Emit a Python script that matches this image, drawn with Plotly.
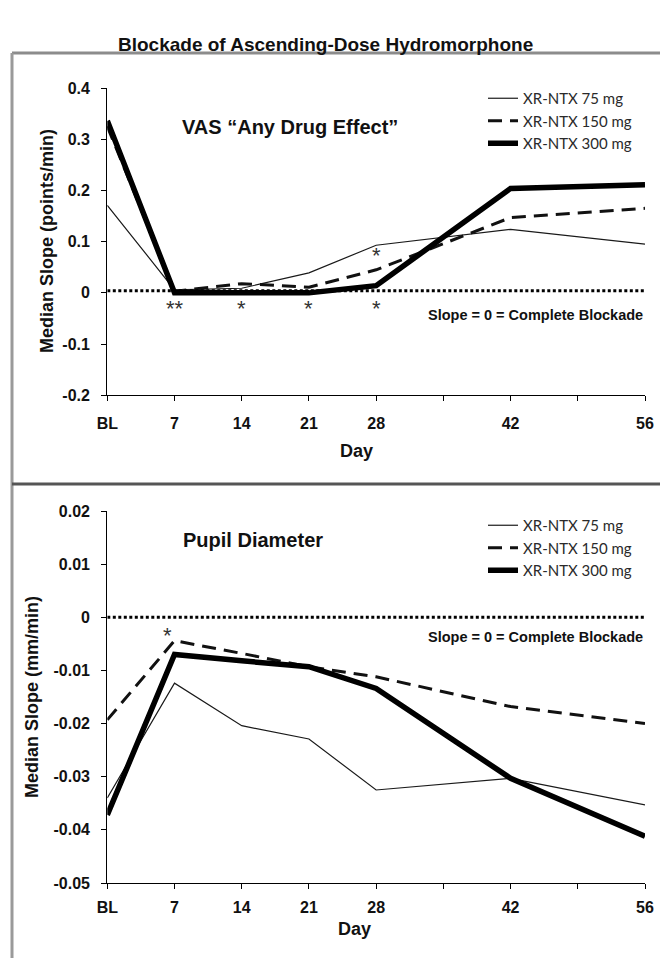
import plotly.graph_objects as go

# ---------------- data ----------------
days = [0, 7, 14, 21, 28, 42, 56]
tick_vals = [0, 7, 14, 21, 28, 35, 42, 49, 56]
tick_text = ["BL", "7", "14", "21", "28", "", "42", "", "56"]

series_names = ["XR-NTX 75 mg", "XR-NTX 150 mg", "XR-NTX 300 mg"]

vas_75 = [0.171, 0.006, 0.009, 0.039, 0.093, 0.124, 0.095]
vas_150 = [0.325, 0.003, 0.018, 0.011, 0.045, 0.147, 0.165]
vas_300 = [0.336, 0.0, 0.0, 0.0, 0.014, 0.204, 0.211]

pupil_75 = [-0.0340, -0.0124, -0.0204, -0.0229, -0.0325, -0.0303, -0.0353]
pupil_150 = [-0.0193, -0.0044, -0.0068, -0.0093, -0.0112, -0.0168, -0.0200]
pupil_300 = [-0.0372, -0.0070, -0.0082, -0.0093, -0.0134, -0.0303, -0.0412]

vas_ticks = [-0.2, -0.1, 0, 0.1, 0.2, 0.3, 0.4]
vas_ticktext = ["-0.2", "-0.1", "0", "0.1", "0.2", "0.3", "0.4"]
pupil_ticks = [-0.05, -0.04, -0.03, -0.02, -0.01, 0, 0.01, 0.02]
pupil_ticktext = ["-0.05", "-0.04", "-0.03", "-0.02", "-0.01", "0", "0.01", "0.02"]

# significance markers (day, value, text)
vas_sig = [(7, -0.031, "**"), (14, -0.031, "*"), (21, -0.031, "*"), (28, -0.031, "*"), (28, 0.072, "*")]
pupil_sig = [(6.3, -0.0035, "*")]

W, H = 660, 958


def px(x):
    return x / W


def py(y):
    return 1 - y / H


styles = [
    dict(color="#1a1a1a", width=1.2),
    dict(color="#111111", width=3, dash="14px,8px"),
    dict(color="#000000", width=5.5),
]

fig = go.Figure()
for name, ys, st in zip(series_names, [vas_75, vas_150, vas_300], styles):
    fig.add_trace(go.Scatter(x=days, y=ys, mode="lines", name=name, line=st,
                             xaxis="x", yaxis="y", legend="legend"))
for name, ys, st in zip(series_names, [pupil_75, pupil_150, pupil_300], styles):
    fig.add_trace(go.Scatter(x=days, y=ys, mode="lines", name=name, line=st,
                             xaxis="x2", yaxis="y2", legend="legend2"))

FONT_B = "Arial, Liberation Sans, sans-serif"
tickfont = dict(family=FONT_B, size=16, color="#111", weight="bold")

xdom = [px(107.3), px(645)]
common_x = dict(range=[0, 56], tickmode="array", tickvals=tick_vals, ticktext=tick_text,
                showline=True, linecolor="#000", linewidth=1.3, ticks="outside",
                ticklen=5, tickcolor="#000", tickwidth=1.3, showgrid=False,
                zeroline=False, tickfont=tickfont, domain=xdom, automargin=False)
common_y = dict(showline=True, linecolor="#000", linewidth=1.3, ticks="outside",
                ticklen=5, tickcolor="#000", tickwidth=1.3, showgrid=False,
                zeroline=False, tickfont=tickfont, ticklabelstandoff=8, automargin=False)

legend_font = dict(family="Lato, Open Sans, sans-serif", size=15, color="#2a2a2a")

fig.update_layout(
    template="none",
    width=W, height=H,
    margin=dict(l=0, r=0, t=0, b=0, autoexpand=False),
    paper_bgcolor="white", plot_bgcolor="white",
    xaxis=dict(common_x, anchor="y", ticklabelstandoff=8),
    xaxis2=dict(common_x, anchor="y2", ticklabelstandoff=5),
    yaxis=dict(common_y, range=[-0.2, 0.4], tickvals=vas_ticks, ticktext=vas_ticktext,
               domain=[py(395.3), py(88)], anchor="x"),
    yaxis2=dict(common_y, range=[-0.05, 0.02], tickvals=pupil_ticks, ticktext=pupil_ticktext,
                domain=[py(883), py(511)], anchor="x2"),
    legend=dict(x=px(483), y=py(82), xanchor="left", yanchor="top", font=legend_font,
                bgcolor="rgba(0,0,0,0)", itemwidth=30),
    legend2=dict(x=px(483), y=py(509), xanchor="left", yanchor="top", font=legend_font,
                 bgcolor="rgba(0,0,0,0)", itemwidth=30),
    showlegend=True,
)

shapes = [
    # panel frame
    dict(type="line", xref="paper", yref="paper", x0=px(12), x1=1, y0=py(53), y1=py(53),
         line=dict(color="#8c8c8c", width=3)),
    dict(type="line", xref="paper", yref="paper", x0=px(12), x1=px(12), y0=py(53), y1=0,
         line=dict(color="#9a9a9a", width=3)),
    dict(type="line", xref="paper", yref="paper", x0=px(12), x1=1, y0=py(484), y1=py(484),
         line=dict(color="#555555", width=3)),
    # complete-blockade reference lines
    dict(type="line", xref="x", yref="y", x0=0, x1=56, y0=0.004, y1=0.004,
         line=dict(color="#000", width=3, dash="3px,2.5px")),
    dict(type="line", xref="x2", yref="y2", x0=0, x1=56, y0=0, y1=0,
         line=dict(color="#000", width=3, dash="3px,2.5px")),
]
fig.update_layout(shapes=shapes)

ann = []


def txt(x, y, text, size, xanchor="center", bold=True, color="#111", angle=0, family=FONT_B):
    ann.append(dict(x=px(x), y=py(y), xref="paper", yref="paper", text=text, showarrow=False,
                    xanchor=xanchor, yanchor="middle", textangle=angle,
                    font=dict(family=family, size=size, color=color,
                              weight="bold" if bold else "normal")))


txt(325, 45, "Blockade of Ascending-Dose Hydromorphone", 19)
txt(180, 127, "VAS \u201cAny Drug Effect\u201d", 20, xanchor="left")
txt(181, 540, "Pupil Diameter", 20, xanchor="left")
txt(645, 315, "Slope = 0 = Complete Blockade", 14.5, xanchor="right")
txt(645, 637, "Slope = 0 = Complete Blockade", 14.5, xanchor="right")
txt(356, 451, "Day", 18)
txt(354, 929, "Day", 18)
txt(47, 241, "Median Slope (points/min)", 18, angle=-90)
txt(32, 697, "Median Slope (mm/min)", 18, angle=-90)

for d, v, t in vas_sig:
    ann.append(dict(x=d, y=v, xref="x", yref="y", text=t, showarrow=False,
                    font=dict(family="Arial, sans-serif", size=22, color="#333")))
for d, v, t in pupil_sig:
    ann.append(dict(x=d, y=v, xref="x2", yref="y2", text=t, showarrow=False,
                    font=dict(family="Arial, sans-serif", size=22, color="#333")))

fig.update_layout(annotations=ann)

fig.write_html("out.html", config={"displayModeBar": False},
               post_script="document.body.style.margin='0';document.body.style.overflow='hidden';")
